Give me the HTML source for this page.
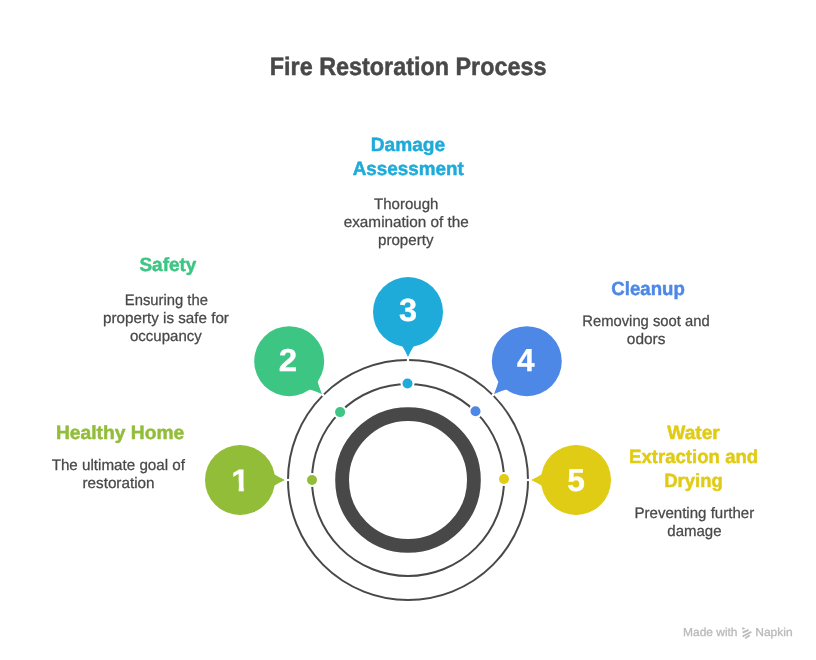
<!DOCTYPE html>
<html lang="en">
<head>
<meta charset="utf-8">
<title>Fire Restoration Process</title>
<style>
html,body{margin:0;padding:0;background:#fff;}
body{width:816px;height:660px;position:relative;overflow:hidden;font-family:"Liberation Sans",sans-serif;}
svg{position:absolute;left:0;top:0;display:block;}
h1,h2,p,ol,li,header,footer{margin:0;padding:0;list-style:none;font:inherit;}
.t{position:absolute;left:0;top:0;margin:0;display:block;line-height:40px;white-space:nowrap;transform-origin:0 0;will-change:transform;text-rendering:geometricPrecision;}
.title{font-weight:bold;font-size:23.3px;-webkit-text-stroke:0.45px currentColor;}
.h{font-weight:bold;font-size:18.4px;-webkit-text-stroke:0.45px currentColor;}
.p{font-weight:normal;font-size:14.6px;-webkit-text-stroke:0.25px currentColor;}
.made{font-weight:normal;font-size:11.6px;-webkit-text-stroke:0.3px currentColor;}
.num{font-weight:bold;font-size:29.5px;-webkit-text-stroke:0.3px currentColor;}
.title,.p{color:#484848;}
.num{color:#fff;}
.credit{color:#b9b9b9;}
.c1 .h{color:#92BD39;}
.c2 .h{color:#3CC583;}
.c3 .h{color:#1EABDA;}
.c4 .h{color:#4E88E7;}
.c5 .h{color:#E0CB15;}

</style>
</head>
<body>
<svg width="816" height="660" viewBox="0 0 816 660" aria-hidden="true">
<circle cx="408" cy="480" r="120" fill="none" stroke="#484848" stroke-width="2"/>
<circle cx="408" cy="480" r="96" fill="none" stroke="#484848" stroke-width="2"/>
<circle cx="408" cy="480" r="65.9" fill="none" stroke="#484848" stroke-width="13.8"/>
<circle cx="288.00" cy="480.00" r="1.3" fill="#fff"/>
<circle cx="312.00" cy="480.00" r="7" fill="#fff"/>
<circle cx="312.00" cy="480.00" r="5" fill="#92BD39"/>
<g transform="translate(240.00 480.00) rotate(360)" fill="#92BD39"><circle r="35"/><path d="M33.75 -6.00 Q38.81 -2.80 45 0 Q38.81 2.80 33.75 6.00 Z"/></g>
<circle cx="323.15" cy="395.15" r="1.3" fill="#fff"/>
<circle cx="340.10" cy="412.10" r="7" fill="#fff"/>
<circle cx="340.10" cy="412.10" r="5" fill="#3CC583"/>
<g transform="translate(289.21 361.21) rotate(405)" fill="#3CC583"><circle r="35"/><path d="M33.75 -6.00 Q39.40 -2.80 46.3 0 Q39.40 2.80 33.75 6.00 Z"/></g>
<circle cx="408.00" cy="360.00" r="1.3" fill="#fff"/>
<circle cx="407.50" cy="383.50" r="7" fill="#fff"/>
<circle cx="407.50" cy="383.50" r="5" fill="#1EABDA"/>
<g transform="translate(408.00 312.00) rotate(450)" fill="#1EABDA"><circle r="35"/><path d="M33.75 -6.00 Q38.81 -2.80 45 0 Q38.81 2.80 33.75 6.00 Z"/></g>
<circle cx="492.85" cy="395.15" r="1.3" fill="#fff"/>
<circle cx="475.50" cy="411.20" r="7" fill="#fff"/>
<circle cx="475.50" cy="411.20" r="5" fill="#4E88E7"/>
<g transform="translate(526.79 361.21) rotate(495)" fill="#4E88E7"><circle r="35"/><path d="M33.75 -6.00 Q39.40 -2.80 46.3 0 Q39.40 2.80 33.75 6.00 Z"/></g>
<circle cx="528.00" cy="480.00" r="1.3" fill="#fff"/>
<circle cx="504.00" cy="479.00" r="7" fill="#fff"/>
<circle cx="504.00" cy="479.00" r="5" fill="#E0CB15"/>
<g transform="translate(576.00 480.00) rotate(180)" fill="#E0CB15"><circle r="35"/><path d="M33.75 -6.00 Q38.81 -2.80 45 0 Q38.81 2.80 33.75 6.00 Z"/></g>
<g fill="none" stroke="#b9b9b9" stroke-width="1.7" stroke-linecap="butt"><path d="M742.6 632.6 L748.6 629.9"/><path d="M742.5 636.4 L751.4 631.7"/><path d="M745.2 638.4 L749.7 635.2"/></g>
<path d="M742.3 626.9 L745.4 628.6 L742.3 630.0 Z" fill="#b9b9b9"/>
</svg>
<header><h1 class="t title" style="transform:translate(269.85px,44.76px) scale(1.0027,1.0800)">Fire Restoration Process</h1></header>
<ol class="steps">
<li class="step c1">
  <span class="t num" style="clip-path:polygon(0px 0px,11.18px 0px,11.18px 31.00px,6.69px 31.00px,6.69px 21.00px,0px 21.00px);transform:translate(231.32px,460.12px) scale(1.1166,1.0524)">1</span>
  <h2><span class="t h" style="transform:translate(55.95px,411.76px) scale(1.0458,1.0400)">Healthy Home</span></h2>
  <p><span class="t p" style="transform:translate(51.64px,444.94px) scale(1.0406,1.0400)">The ultimate goal of</span> <span class="t p" style="transform:translate(82.41px,462.84px) scale(1.0468,1.0400)">restoration</span></p>
</li>
<li class="step c2">
  <span class="t num" style="transform:translate(278.83px,339.61px) scale(1.1236,1.0765)">2</span>
  <h2><span class="t h" style="transform:translate(139.44px,243.96px) scale(1.0317,1.0400)">Safety</span></h2>
  <p><span class="t p" style="transform:translate(124.79px,279.74px) scale(1.0149,1.0400)">Ensuring the</span> <span class="t p" style="transform:translate(103.02px,297.74px) scale(1.0417,1.0400)">property is safe for</span> <span class="t p" style="transform:translate(129.99px,315.74px) scale(1.0282,1.0400)">occupancy</span></p>
</li>
<li class="step c3">
  <span class="t num" style="transform:translate(399.02px,289.24px) scale(1.1026,1.0888)">3</span>
  <h2><span class="t h" style="transform:translate(370.66px,123.86px) scale(1.0420,1.0400)">Damage</span> <span class="t h" style="transform:translate(352.74px,147.76px) scale(1.0259,1.0400)">Assessment</span></h2>
  <p><span class="t p" style="transform:translate(374.04px,183.74px) scale(1.0293,1.0400)">Thorough</span> <span class="t p" style="transform:translate(343.68px,201.74px) scale(1.0495,1.0400)">examination of the</span> <span class="t p" style="transform:translate(378.02px,219.74px) scale(1.0351,1.0400)">property</span></p>
</li>
<li class="step c4">
  <span class="t num" style="transform:translate(516.95px,339.44px) scale(1.0651,1.0824)">4</span>
  <h2><span class="t h" style="transform:translate(611.29px,267.86px) scale(1.0126,1.0400)">Cleanup</span></h2>
  <p><span class="t p" style="transform:translate(582.29px,300.54px) scale(1.0129,1.0400)">Removing soot and</span> <span class="t p" style="transform:translate(626.87px,318.54px) scale(1.0563,1.0400)">odors</span></p>
</li>
<li class="step c5">
  <span class="t num" style="transform:translate(567.23px,459.73px) scale(1.0781,1.0717)">5</span>
  <h2><span class="t h" style="transform:translate(667.26px,411.76px) scale(1.0416,1.0400)">Water</span> <span class="t h" style="transform:translate(628.99px,435.76px) scale(1.0115,1.0400)">Extraction and</span> <span class="t h" style="transform:translate(664.30px,459.76px) scale(1.0027,1.0400)">Drying</span></h2>
  <p><span class="t p" style="transform:translate(634.47px,492.64px) scale(1.0318,1.0400)">Preventing further</span> <span class="t p" style="transform:translate(667.29px,510.54px) scale(1.0280,1.0400)">damage</span></p>
</li>
</ol>
<footer class="credit"><span class="t made" style="transform:translate(683.03px,613.20px) scaleX(1.0311)">Made with</span> <span class="t made" style="transform:translate(755.22px,613.20px) scaleX(1.0360)">Napkin</span></footer>
</body>
</html>
